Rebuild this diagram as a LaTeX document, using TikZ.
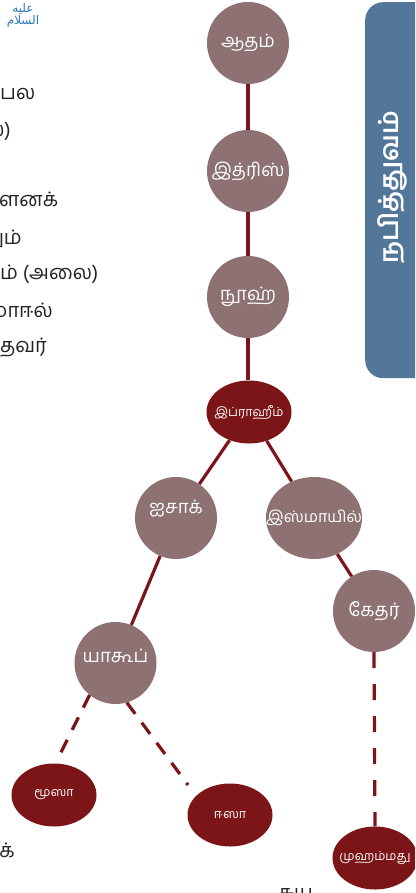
\documentclass[tikz,border=0pt]{standalone}
\usepackage{fontspec}
\setmainfont[Script=Tamil]{Hind Madurai}
\newfontfamily\arabicfont[Script=Arabic]{DejaVu Sans}
\TeXXeTstate=1
\usetikzlibrary{shapes.geometric}
\definecolor{mauve}{RGB}{141,113,115}
\definecolor{dred}{RGB}{123,21,24}
\definecolor{steel}{RGB}{82,119,153}
\definecolor{ink}{RGB}{35,35,35}
\definecolor{callig}{RGB}{40,120,185}
\begin{document}
\begin{tikzpicture}[x=1pt,y=-1pt,
  prophet/.style={circle,fill=mauve,minimum size=82pt,inner sep=0pt,text=white,font=\fontsize{18.5}{18.5}\selectfont},
  wideprophet/.style={ellipse,fill=mauve,minimum width=96pt,minimum height=82pt,inner xsep=-30pt,inner ysep=0pt,text=white,font=\fontsize{16}{16}\selectfont},
  keyprophet/.style={ellipse,fill=dred,minimum width=85pt,minimum height=63pt,inner xsep=-25pt,inner ysep=0pt,text=white,font=\fontsize{12.5}{13}\selectfont},
  link/.style={draw=dred,line width=3.2pt},
  dlinka/.style={link,dash pattern=on 14pt off 11pt},
  dlinkb/.style={link,dash pattern=on 16pt off 16pt},
  body/.style={text=ink,font=\fontsize{20}{21}\selectfont,inner sep=0pt},
  paneltext/.style={text=white,font=\bfseries\fontsize{26}{26}\selectfont,inner sep=0pt}
]
\useasboundingbox (0,0) rectangle (415,893);
\clip (0,0) rectangle (415,893);

% side panel
\node[fill=steel,rounded corners=18pt,minimum width=80pt,minimum height=376pt,inner sep=0pt,anchor=north west] (panel) at (365,2) {};
\node[paneltext,rotate=90] (paneltitle) at (392,187) {நபித்துவம்};

% calligraphy
\node[text=callig,inner sep=0pt,align=center,font=\arabicfont\fontsize{12}{10}\selectfont] (callig) at (23,15) {\beginR عليه\endR\\\beginR السلام\endR};

% left text fragments
\node[body,anchor=base west] (t1) at (0,100) {பல};
\node[body,anchor=base east] (t2) at (11,137) {ல)};
\node[body,anchor=base west] (t3) at (-1,207) {ளனக்};
\node[body,anchor=base east] (t4) at (22,244) {தும்};
\node[body,anchor=base west] (t5) at (0,279) {ம் (அலை)};
\node[body,anchor=base east] (t6) at (53,317) {மாஈல்};
\node[body,anchor=base east] (t7) at (47,352) {தவர்};
\node[body,anchor=base east] (t8) at (15,857) {க்};
\node[body,anchor=base west] (t9) at (278,899) {சுய};

% tree nodes
\node[prophet] (adam) at (248,43) {ஆதம்};
\node[prophet] (idris) at (248,171) {இத்ரிஸ்};
\node[prophet] (nuh) at (248,297) {நூஹ்};
\node[keyprophet] (ibr) at (249,412) {இப்ராஹீம்};
\node[prophet] (isaac) at (176,518) {\raisebox{22pt}{ஐசாக்}};
\node[wideprophet] (ismail) at (314,518) {இஸ்மாயில்};
\node[prophet] (kedar) at (374,611) {கேதர்};
\node[prophet] (yakub) at (115.5,663) {\raisebox{14pt}{யாகூப்}};
\node[keyprophet] (musa) at (54,795) {மூஸா};
\node[keyprophet] (isa) at (230,815) {ஈஸா};
\node[keyprophet] (muh) at (375,858) {முஹம்மது};

% connectors
\draw[link] (adam) -- (idris);
\draw[link] (idris) -- (nuh);
\draw[link] (nuh) -- (nuh |- ibr.north);
\draw[link] (ibr) -- (isaac);
\draw[link] (ibr) -- (ismail);
\draw[link] (ismail) -- (kedar);
\draw[link] (isaac) -- (yakub);
\draw[dlinka] (yakub.231) -- ([shift={(7,-11)}]musa.north);
\draw[dlinka] (yakub.286) -- ([shift={(-42,-30)}]isa.center);
\draw[dlinkb] (kedar.south) -- (muh.north);
\end{tikzpicture}
\end{document}
